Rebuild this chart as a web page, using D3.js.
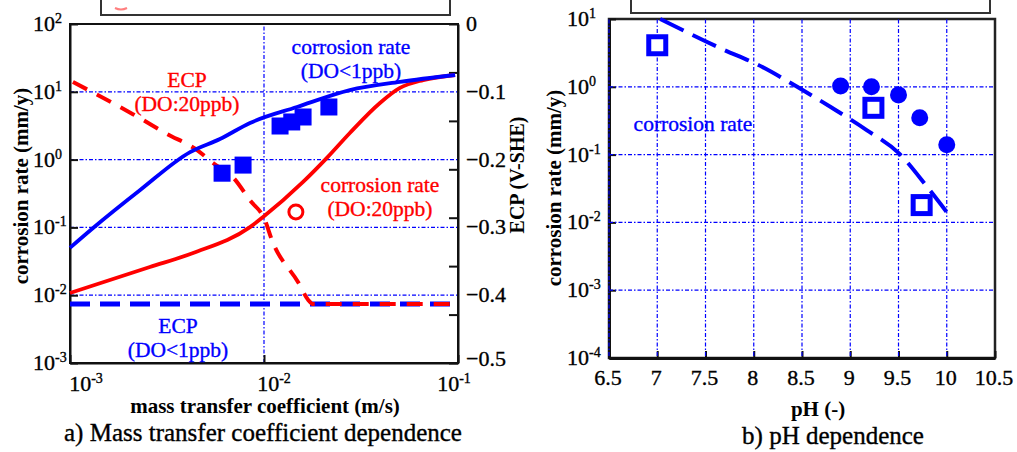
<!DOCTYPE html>
<html>
<head>
<meta charset="utf-8">
<script src="https://cdn.jsdelivr.net/npm/d3@7"></script>
<style>
  body { margin: 0; background: #fff; }
  svg { display: block; font-family: "Liberation Serif", "Times New Roman", Times, serif; }
</style>
</head>
<body>
<svg id="chart" width="1017" height="452"></svg>
<script>
// ---- panel a) mass transfer coefficient (m/s) ----
const rateDO1 = [[1e-3, 0.05], [1.315e-3, 0.098], [2.3e-3, 0.356], [4.16e-3, 1.29], [5.93e-3, 2.01],
  [8.47e-3, 3.47], [1.48e-2, 5.97], [2.77e-2, 10.6], [5.02e-2, 14.0], [9.66e-2, 17.7]];
const rateDO20 = [[1e-3, 0.0108], [2.58e-3, 0.026], [4.31e-3, 0.042], [8.47e-3, 0.101], [9.89e-3, 0.142],
  [1.59e-2, 0.468], [2.11e-2, 1.06], [2.77e-2, 2.47], [3.96e-2, 6.84], [5.02e-2, 11.4], [6.61e-2, 14.9], [9.66e-2, 17.7]];
const ecpDO20 = [[1.035e-3, -0.0855], [2.11e-3, -0.133], [3.16e-3, -0.162], [4.52e-3, -0.186], [5.46e-3, -0.205],
  [6.92e-3, -0.226], [8.47e-3, -0.26], [1.01e-2, -0.289], [1.10e-2, -0.319], [1.50e-2, -0.381],
  [1.69e-2, -0.407], [1.78e-2, -0.413], [9.66e-2, -0.413]];
const ecpDO1 = [[1e-3, -0.413], [9.66e-2, -0.413]];
const measuredDO1 = [[6.08e-3, 0.63], [7.8e-3, 0.83], [1.21e-2, 3.13], [1.39e-2, 3.59], [1.59e-2, 4.25], [2.16e-2, 5.97]];
const measuredDO20 = [[1.46e-2, 0.169]];
const decadesA = [1e-3, 1e-2, 1e-1, 1e0, 1e1, 1e2];
const ecpTicks = [0, -0.1, -0.2, -0.3, -0.4, -0.5];
const ecpMarks = [0, -0.0714, -0.1429, -0.2143, -0.2857, -0.3571, -0.4286, -0.5];

// ---- panel b) pH ----
const phRate = [[7.03, 10], [7.65, 3.73], [8.09, 1.96], [8.45, 1.0], [8.81, 0.49], [9.17, 0.23],
  [9.5, 0.106], [9.8, 0.033], [10.0, 0.0142]];
const phSquares = [[7.0, 4.1], [9.24, 0.49], [9.74, 0.018]];
const phCircles = [[8.9, 1.03], [9.22, 1.0], [9.5, 0.76], [9.72, 0.35], [10.0, 0.14]];
const phTicks = [6.5, 7, 7.5, 8, 8.5, 9, 9.5, 10, 10.5];
const decadesB = [1e-4, 1e-3, 1e-2, 1e-1, 1e0, 1e1];

const BLUE = "#0000ff", RED = "#ff0000", GRID = "4,2,1.5,2";
const svg = d3.select("#chart");

function exp10(v) { return Math.round(Math.log10(v)); }

function powerLabel(sel, v) {
  sel.append("tspan").text("10");
  sel.append("tspan").attr("dy", -8).attr("font-size", 14).text(exp10(v));
}

// ================= panel a =================
const xA = d3.scaleLog().domain([1e-3, 1e-1]).range([70, 458]);
const yA = d3.scaleLog().domain([1e-3, 1e2]).range([363, 24]);
const eA = d3.scaleLinear().domain([-0.5, 0]).range([363, 24]);

const gA = svg.append("g");

// legend box remnant
gA.append("path").attr("d", "M101,0V15H450V0").attr("fill", "none").attr("stroke", "#333").attr("stroke-width", 2);
gA.append("path").attr("d", "M115,8 Q121,11 127,8").attr("fill", "none").attr("stroke", RED).attr("stroke-width", 2).attr("opacity", 0.5);

// grid
gA.selectAll(".hg").data([1e-2, 1e-1, 1e0, 1e1]).join("line")
  .attr("x1", xA.range()[0]).attr("x2", xA.range()[1])
  .attr("y1", d => yA(d)).attr("y2", d => yA(d))
  .attr("stroke", BLUE).attr("stroke-width", 1.2).attr("stroke-dasharray", GRID);
gA.append("line").attr("x1", xA(1e-2)).attr("x2", xA(1e-2)).attr("y1", yA.range()[0]).attr("y2", yA.range()[1])
  .attr("stroke", BLUE).attr("stroke-width", 1.2).attr("stroke-dasharray", GRID);

// frame + axes
gA.append("rect").attr("x", 70).attr("y", 24).attr("width", 388).attr("height", 339)
  .attr("fill", "none").attr("stroke", "#111").attr("stroke-width", 2);

const axLeftA = gA.append("g").attr("transform", "translate(70,0)")
  .call(d3.axisLeft(yA).tickValues(decadesA).tickSizeInner(-8).tickSizeOuter(0).tickFormat(""));
const axBotA = gA.append("g").attr("transform", "translate(0,363)")
  .call(d3.axisBottom(xA).tickValues([1e-3, 1e-2, 1e-1]).tickSizeInner(-8).tickSizeOuter(0).tickFormat(""));
const axRightA = gA.append("g").attr("transform", "translate(458,0)")
  .call(d3.axisRight(eA).tickValues(ecpMarks).tickSizeInner(-9).tickSizeOuter(0).tickFormat(""));
[axLeftA, axBotA, axRightA].forEach(a => {
  a.select(".domain").attr("stroke", "#111").attr("stroke-width", 2);
  a.selectAll(".tick line").attr("stroke", "#111").attr("stroke-width", 2);
});

// tick labels
gA.selectAll(".ylab").data(decadesA).join("text")
  .attr("x", 33).attr("y", d => yA(d) + 7).attr("font-size", 22)
  .each(function(d) { powerLabel(d3.select(this), d); });
const xLabDx = [16, 10, -4];
gA.selectAll(".xlab").data([1e-3, 1e-2, 1e-1]).join("text")
  .attr("x", (d, i) => xA(d) + xLabDx[i]).attr("y", 391).attr("font-size", 22).attr("text-anchor", "middle")
  .each(function(d) { powerLabel(d3.select(this), d); });
gA.selectAll(".elab").data(ecpTicks).join("text")
  .attr("x", 466).attr("y", d => eA(d) + (d === -0.5 ? 3 : 7)).attr("font-size", 22)
  .text(d => d === 0 ? "0" : d3.format(".1f")(d));

// axis titles
gA.append("text").attr("transform", "translate(28,186) rotate(-90)").attr("text-anchor", "middle")
  .attr("font-size", 21).attr("font-weight", "bold").text("corrosion rate (mm/y)");
gA.append("text").attr("transform", "translate(524,175) rotate(-90)").attr("text-anchor", "middle")
  .attr("font-size", 20).attr("font-weight", "bold").text("ECP (V-SHE)");
gA.append("text").attr("x", 265).attr("y", 413).attr("text-anchor", "middle")
  .attr("font-size", 21).attr("font-weight", "bold").text("mass transfer coefficient (m/s)");
gA.append("text").attr("x", 263).attr("y", 441).attr("text-anchor", "middle")
  .attr("font-size", 25).text("a) Mass transfer coefficient dependence");

// curves
const lineA = d3.line().x(d => xA(d[0])).y(d => yA(d[1])).curve(d3.curveMonotoneX);
const lineE = d3.line().x(d => xA(d[0])).y(d => eA(d[1])).curve(d3.curveMonotoneX);

gA.append("path").attr("d", lineE(ecpDO1)).attr("fill", "none").attr("stroke", BLUE)
  .attr("stroke-width", 5).attr("stroke-dasharray", "20,10");
gA.append("path").attr("d", lineE(ecpDO20)).attr("fill", "none").attr("stroke", RED)
  .attr("stroke-width", 4).attr("stroke-dasharray", "16,11");
gA.append("path").attr("d", lineA(rateDO20)).attr("fill", "none").attr("stroke", RED).attr("stroke-width", 3.8);
gA.append("path").attr("d", lineA(rateDO1)).attr("fill", "none").attr("stroke", BLUE).attr("stroke-width", 3.8);

gA.selectAll(".sq").data(measuredDO1).join("rect")
  .attr("x", d => xA(d[0]) - 8.5).attr("y", d => yA(d[1]) - 8.5).attr("width", 17).attr("height", 17)
  .attr("fill", BLUE);
gA.selectAll(".ci").data(measuredDO20).join("circle")
  .attr("cx", d => xA(d[0])).attr("cy", d => yA(d[1])).attr("r", 7)
  .attr("fill", "#fff").attr("stroke", RED).attr("stroke-width", 3);

// annotations
function note(g, x, y, lines, color) {
  lines.forEach((t, i) => g.append("text").attr("x", x).attr("y", y + i * 24).attr("text-anchor", "middle")
    .attr("font-size", 21.5).attr("fill", color).text(t));
}
note(gA, 187, 87, ["ECP", "(DO:20ppb)"], RED);
note(gA, 351, 54, ["corrosion rate", "(DO<1ppb)"], BLUE);
note(gA, 380, 192, ["corrosion rate", "(DO:20ppb)"], RED);
note(gA, 178, 333, ["ECP", "(DO<1ppb)"], BLUE);

// ================= panel b =================
const xB = d3.scaleLinear().domain([6.5, 10.5]).range([609, 995]);
const yB = d3.scaleLog().domain([1e-4, 1e1]).range([358, 19]);
const gB = svg.append("g");

gB.append("path").attr("d", "M631,0V13H990V0").attr("fill", "none").attr("stroke", "#333").attr("stroke-width", 2);

gB.append("rect").attr("x", 609).attr("y", 19).attr("width", 386).attr("height", 339)
  .attr("fill", "none").attr("stroke", "#222").attr("stroke-width", 2.5);

const axLeftB = gB.append("g").attr("transform", "translate(609,0)")
  .call(d3.axisLeft(yB).tickValues(decadesB).tickSizeInner(-7).tickSizeOuter(0).tickFormat(""));
const axBotB = gB.append("g").attr("transform", "translate(0,358)")
  .call(d3.axisBottom(xB).tickValues(phTicks).tickSizeInner(-7).tickSizeOuter(0).tickFormat(""));
[axLeftB, axBotB].forEach(a => {
  a.select(".domain").attr("stroke", "#111").attr("stroke-width", 3);
  a.selectAll(".tick line").attr("stroke", "#111").attr("stroke-width", 2);
});

gB.selectAll(".hg").data(decadesB.slice(1, 5)).join("line")
  .attr("x1", xB.range()[0]).attr("x2", xB.range()[1])
  .attr("y1", d => yB(d)).attr("y2", d => yB(d))
  .attr("stroke", BLUE).attr("stroke-width", 1.2).attr("stroke-dasharray", GRID);
gB.selectAll(".vg").data(phTicks.slice(0, 8)).join("line")
  .attr("x1", d => xB(d)).attr("x2", d => xB(d)).attr("y1", yB.range()[0] - 2).attr("y2", yB.range()[1])
  .attr("stroke", BLUE).attr("stroke-width", 1.2).attr("stroke-dasharray", GRID);

gB.selectAll(".ylab").data(decadesB).join("text")
  .attr("x", 567).attr("y", d => yB(d) + 7).attr("font-size", 22)
  .each(function(d) { powerLabel(d3.select(this), d); });
gB.selectAll(".xlab").data(phTicks).join("text")
  .attr("x", d => xB(d) - 1).attr("y", 385).attr("font-size", 22).attr("text-anchor", "middle")
  .text(d => d);

gB.append("text").attr("transform", "translate(561,188) rotate(-90)").attr("text-anchor", "middle")
  .attr("font-size", 21).attr("font-weight", "bold").text("corrosion rate (mm/y)");
gB.append("text").attr("x", 818).attr("y", 416).attr("text-anchor", "middle")
  .attr("font-size", 21).attr("font-weight", "bold").text("pH (-)");
gB.append("text").attr("x", 833).attr("y", 444).attr("text-anchor", "middle")
  .attr("font-size", 25).text("b) pH dependence");

const lineB = d3.line().x(d => xB(d[0])).y(d => yB(d[1])).curve(d3.curveMonotoneX);
gB.append("path").attr("d", lineB(phRate)).attr("fill", "none").attr("stroke", BLUE)
  .attr("stroke-width", 4).attr("stroke-dasharray", "26,10");

gB.selectAll(".ci").data(phCircles).join("circle")
  .attr("cx", d => xB(d[0])).attr("cy", d => yB(d[1])).attr("r", 8.5).attr("fill", BLUE);
gB.selectAll(".sq").data(phSquares).join("rect")
  .attr("x", d => xB(d[0]) - 8.5).attr("y", d => yB(d[1]) - 8.5).attr("width", 17).attr("height", 17)
  .attr("fill", "#fff").attr("stroke", BLUE).attr("stroke-width", 5);

note(gB, 693, 131, ["corrosion rate"], BLUE);

// the scanned figure's type is heavy; thicken the regular-weight text a little
svg.selectAll("text").filter(function() { return this.getAttribute("font-weight") !== "bold"; })
  .attr("stroke", function() { return this.getAttribute("fill") || "#000"; })
  .attr("stroke-width", 0.35);
</script>
</body>
</html>
